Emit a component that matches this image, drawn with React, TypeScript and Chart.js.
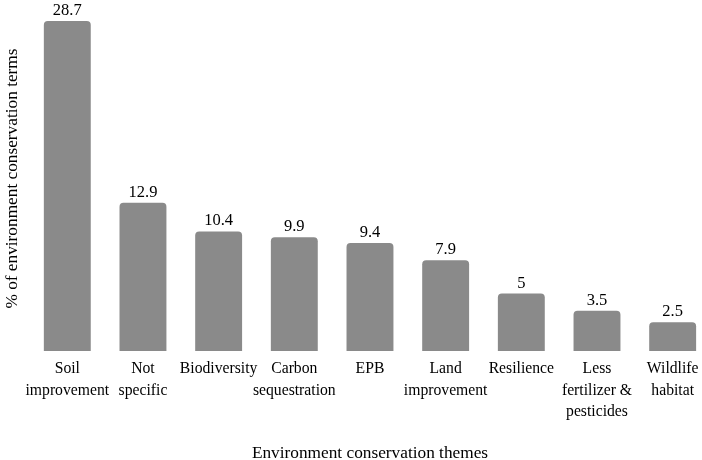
import React, { useEffect, useRef } from "react";
import { Chart, registerables } from "chart.js";

Chart.register(...registerables);

const categories: (string | string[])[] = [
  ["Soil", "improvement"],
  ["Not", "specific"],
  "Biodiversity",
  ["Carbon", "sequestration"],
  "EPB",
  ["Land", "improvement"],
  "Resilience",
  ["Less", "fertilizer &", "pesticides"],
  ["Wildlife", "habitat"],
];
const values: number[] = [28.7, 12.9, 10.4, 9.9, 9.4, 7.9, 5, 3.5, 2.5];
const yTitle = "% of environment conservation terms";
const xTitle = "Environment conservation themes";

const FONT = '"Liberation Serif", "Times New Roman", serif';

const valueLabels = {
  id: "valueLabels",
  afterDatasetsDraw(chart: any) {
    const ctx = chart.ctx;
    const meta = chart.getDatasetMeta(0);
    ctx.save();
    ctx.font = `16.5px ${FONT}`;
    ctx.fillStyle = "#000";
    ctx.textAlign = "center";
    ctx.textBaseline = "alphabetic";
    meta.data.forEach((bar: any, i: number) => {
      ctx.fillText(String(values[i]), bar.x, bar.y - 6);
    });
    ctx.restore();
  },
};

export default function App() {
  const ref = useRef<HTMLCanvasElement | null>(null);
  useEffect(() => {
    if (!ref.current) return;
    const chart = new Chart(ref.current, {
      type: "bar",
      data: {
        labels: categories,
        datasets: [
          {
            data: values,
            backgroundColor: "#8a8a8a",
            borderWidth: 0,
            borderRadius: 4,
            categoryPercentage: 1,
            barPercentage: 0.62,
          },
        ],
      },
      options: {
        responsive: false,
        animation: false,
        layout: {
          autoPadding: false,
          padding: { top: 6, right: 1.5, left: 0, bottom: 0 },
        },
        plugins: {
          legend: { display: false },
          tooltip: { enabled: false },
        },
        scales: {
          x: {
            grid: { display: false, drawTicks: false },
            border: { display: false },
            ticks: {
              color: "#000",
              font: { family: FONT, size: 15.7, lineHeight: 1.375 },
              padding: 7.2,
              maxRotation: 0,
              autoSkip: false,
            },
            title: {
              display: true,
              text: xTitle,
              color: "#000",
              font: { family: FONT, size: 17.3, lineHeight: 0.6 },
              padding: { top: 17.9, bottom: 1.5 },
            },
          },
          y: {
            min: 0,
            max: 30,
            grid: { display: false, drawTicks: false },
            border: { display: false },
            ticks: { display: false },
            title: {
              display: true,
              text: yTitle,
              color: "#000",
              font: { family: FONT, size: 17.3, lineHeight: 1.2 },
              padding: { top: 1.7, bottom: 7 },
            },
          },
        },
      },
      plugins: [valueLabels],
    });
    return () => chart.destroy();
  }, []);
  return (
    <div
      style={{
        position: "fixed",
        left: 0,
        top: 0,
        width: 702,
        height: 460,
        overflow: "hidden",
        background: "#fff",
      }}
    >
      <canvas ref={ref} width={712} height={460} style={{ display: "block" }} />
    </div>
  );
}
